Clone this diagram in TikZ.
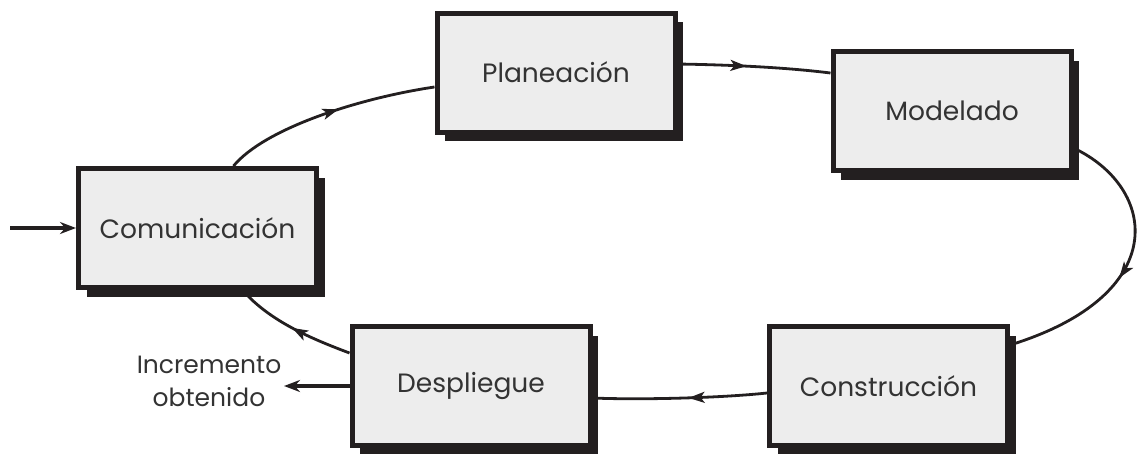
\documentclass[tikz,border=0pt]{standalone}
\usepackage{fontspec}
\setmainfont{Poppins}
\usetikzlibrary{shadows,decorations.markings,arrows.meta}
\definecolor{boxfill}{HTML}{EDEDED}
\definecolor{ink}{HTML}{231F20}
\definecolor{txt}{HTML}{333333}
\tikzset{
  stage/.style={draw=ink, fill=boxfill, line width=5pt,
    minimum width=238pt, minimum height=119pt, inner sep=0pt,
    text=txt, font=\fontsize{26.5}{30}\selectfont,
    general shadow={fill=ink, shadow xshift=8pt, shadow yshift=-9pt}},
  flow/.style={draw=ink, line width=2.8pt, postaction={decorate},
    decoration={markings, mark=at position #1 with {\arrow{Stealth[length=16pt,width=11pt,inset=4pt]}}}},
  flow/.default=0.5,
  io/.style={draw=ink, line width=3.2pt, -{Stealth[length=16pt,width=12pt]}}
}
\begin{document}
\begin{tikzpicture}[x=1pt,y=-1pt]
\useasboundingbox (0,0) rectangle (1137,453);

% the five stages of the cycle
\node[stage] (com)  at (197.5,228) {Comunicación};
\node[stage] (plan) at (556,72.5)  {Planeación};
\node[stage] (mod)  at (952,111)   {Modelado};
\node[stage] (cons) at (888.5,386) {Construcción};
\node[stage] (desp) at (471,386)   {Despliegue};

% entry and exit
\coordinate (entry) at (10,228);
\coordinate (exit) at (284,386);
\draw[io] (entry) -- (com.west);
\draw[io] (desp.west) -- (exit);
\node[text=txt, font=\fontsize{25}{33}\selectfont, align=center] (inc) at (209,381)
  {Incremento\\obtenido};

% cycle connectors
\draw[flow=0.55] ([xshift=36pt]com.north) .. controls (265,128) and (360,98) .. ([yshift=-14.5pt]plan.west);
\draw[flow=0.45] ([yshift=8.5pt]plan.east) .. controls (740,65) and (790,68) .. ([yshift=38pt]mod.west);
\draw[flow=0.55] ([yshift=-37pt]mod.east) .. controls (1158,188) and (1172,295) .. ([yshift=41pt]cons.east);
\draw[flow=0.45] ([yshift=-7pt]cons.west) .. controls (720,398) and (640,400) .. ([yshift=-12pt]desp.east);
\draw[flow=0.5] ([yshift=33pt]desp.west) .. controls (315,340) and (270,322) .. ([xshift=45pt]com.south);
\end{tikzpicture}
\end{document}
